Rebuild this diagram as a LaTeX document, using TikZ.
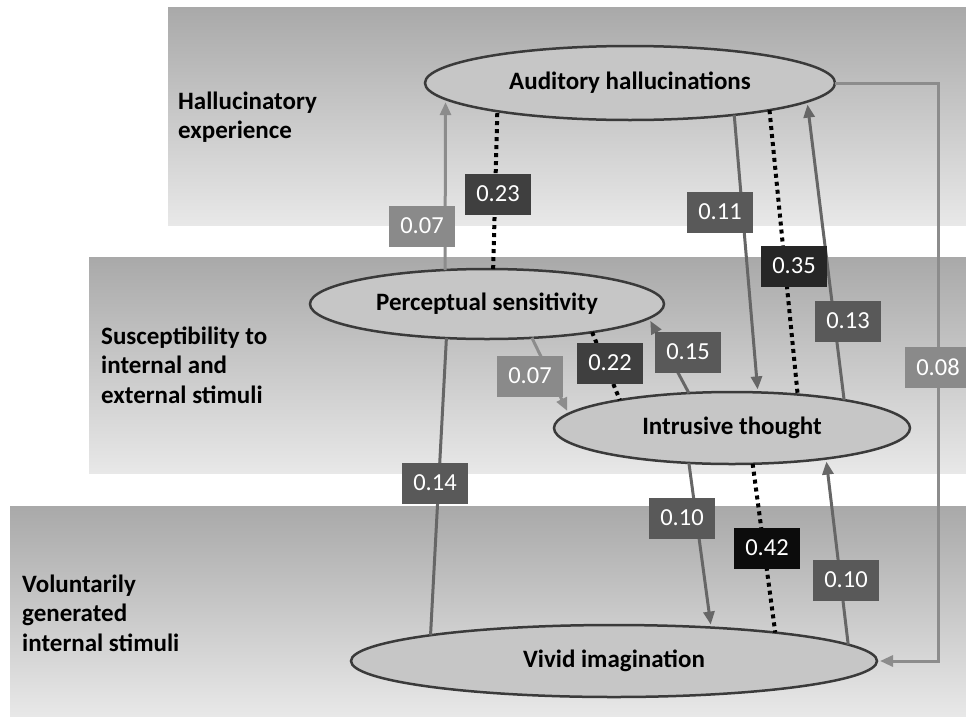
\documentclass[tikz,border=0pt]{standalone}
\usepackage{fontspec}
\setmainfont{Carlito}
\usetikzlibrary{arrows.meta,shapes.geometric}

\definecolor{bandtop}{HTML}{A9A9A9}
\definecolor{bandbot}{HTML}{E8E8E8}
\definecolor{ellfill}{HTML}{C6C6C6}
\definecolor{ellrim}{HTML}{3A3A3A}
\definecolor{linedark}{HTML}{666666}
\definecolor{linelight}{HTML}{8C8C8C}
\definecolor{boxlight}{HTML}{8A8A8A}
\definecolor{boxmid}{HTML}{595959}
\definecolor{boxdark}{HTML}{3F3F3F}
\definecolor{boxdeeper}{HTML}{262626}
\definecolor{boxblack}{HTML}{0C0C0C}

\begin{document}
\begin{tikzpicture}[x=1pt,y=-1pt,
  band/.style={top color=bandtop, bottom color=bandbot, draw=none},
  bandlabel/.style={anchor=west, align=left, inner sep=0pt,
    font=\bfseries\fontsize{25}{29.5}\selectfont},
  factor/.style={ellipse, draw=ellrim, line width=2.5pt, fill=ellfill,
    inner sep=2pt, outer sep=0pt, font=\bfseries\fontsize{25}{29}\selectfont},
  coef/.style={rectangle, minimum width=66pt, minimum height=41pt, inner sep=0pt,
    text=white, font=\fontsize{24.5}{29}\selectfont},
  tip/.style={-{Triangle[length=13pt,width=11pt]}, shorten >=3pt},
  pathdark/.style={draw=linedark, line width=3pt},
  pathlight/.style={draw=linelight, line width=3pt},
  corr/.style={draw=black, line width=4pt, dash pattern=on 4pt off 4pt}
]
\useasboundingbox (0,0) rectangle (966,718);

% three level bands
\shade[band] (168,7) rectangle (966,225);
\shade[band] (89,257) rectangle (966,473);
\shade[band] (10,506) rectangle (966,716);

\node[bandlabel] (lvl1) at (178,117) {Hallucinatory\\experience};
\node[bandlabel] (lvl2) at (101,365) {Susceptibility to\\internal and\\external stimuli};
\node[bandlabel] (lvl3) at (22,613) {Voluntarily\\generated\\internal stimuli};

% latent factors
\node[factor, minimum width=410pt, minimum height=74pt] (aud) at (630,83) {Auditory hallucinations};
\node[factor, minimum width=354pt, minimum height=70pt] (per) at (487,304) {Perceptual sensitivity};
\node[factor, minimum width=356pt, minimum height=72pt] (int) at (732,428) {Intrusive thought};
\node[factor, minimum width=526pt, minimum height=72pt] (viv) at (614,661) {Vivid imagination};

% turning point of the feedback path on the right
\coordinate (ret) at (938,367);

% directed paths
\draw[pathlight, tip] (per.141) -- (aud.185.9);
\draw[pathdark, tip] (aud.343.15) -- (int.54.9);
\draw[pathdark, tip] (int.14.4) -- (aud.354.7);
\draw[pathdark, tip] (int.141.6) -- (per.355.2);
\draw[pathlight, tip] (per.323) -- (int.175.1);
\draw[pathdark] (viv.172.2) -- (per.220.45);
\draw[pathdark, tip] (int.219.8) -- (viv.19.2);
\draw[pathdark, tip] (viv.4.5) -- (int.342);
\draw[pathlight, tip] (aud.east) -| (ret) |- (viv.east);

% residual correlations
\draw[corr] (per.80.3) -- (aud.192.1);
\draw[corr] (aud.349.1) -- (int.27.3);
\draw[corr] (per.345.2) -- (int.166);
\draw[corr] (int.300.5) -- (viv.10.2);

% coefficients
\node[coef, fill=boxlight] (c1) at (422,226) {0.07};
\node[coef, fill=boxdark] (c2) at (498,194) {0.23};
\node[coef, fill=boxmid] (c3) at (720,212) {0.11};
\node[coef, fill=boxdeeper] (c4) at (794,266) {0.35};
\node[coef, fill=boxmid] (c5) at (848,321) {0.13};
\node[coef, fill=boxmid] (c6) at (688,352) {0.15};
\node[coef, fill=boxlight] (c7) at (530,376) {0.07};
\node[coef, fill=boxdark] (c8) at (610,363) {0.22};
\node[coef, fill=boxmid] (c9) at (435,483) {0.14};
\node[coef, fill=boxmid] (c10) at (682,518) {0.10};
\node[coef, fill=boxblack] (c11) at (767,548) {0.42};
\node[coef, fill=boxmid] (c12) at (846,580) {0.10};
\node[coef, fill=boxlight] (c13) at (ret) {0.08};
\end{tikzpicture}
\end{document}
